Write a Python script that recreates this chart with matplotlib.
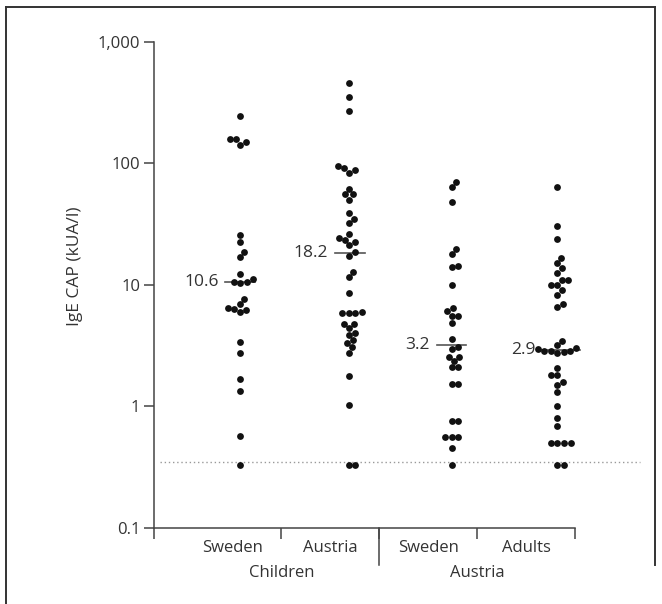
import numpy as np
import matplotlib
matplotlib.use('Agg')
import matplotlib.pyplot as plt
from matplotlib.lines import Line2D
from matplotlib.ticker import FixedLocator, FixedFormatter, NullLocator

plt.rcParams['font.family'] = ['Open Sans', 'DejaVu Sans']

# IgE CAP values (kUA/l)
sweden_children = [246, 160, 158, 151, 143, 25.9, 22.5, 18.8, 17.1, 12.4, 11.2,
                   10.6, 10.6, 10.3, 7.6, 6.9, 6.4, 6.3, 6.2, 5.95, 3.4, 2.74,
                   1.69, 1.34, 0.57, 0.33]
austria_children = [458, 353, 272, 96, 91.5, 89, 84, 62, 55.7, 55.7, 50.4, 39.4,
                    34.9, 32.1, 26.0, 24.4, 23.5, 22.4, 21.2, 18.5, 17.4, 12.8,
                    11.7, 8.6, 5.9, 5.9, 5.9, 5.95, 4.76, 4.76, 4.4, 3.99, 3.84,
                    3.49, 3.32, 3.07, 2.76, 1.78, 1.03, 0.33, 0.33]
sweden_austria = [70.6, 64.1, 48.5, 19.8, 18.0, 14.4, 13.9, 9.9, 6.45, 6.06, 5.54,
                  5.54, 4.85, 3.6, 3.09, 2.94, 2.56, 2.53, 2.35, 2.09, 2.09, 1.52,
                  1.52, 0.756, 0.756, 0.562, 0.562, 0.562, 0.45, 0.33]
adults = [63.4, 30.3, 24.0, 16.7, 15.1, 13.7, 12.6, 11.0, 11.0, 10.0, 10.0, 9.1,
          8.28, 6.97, 6.6, 3.46, 3.17, 3.0, 2.97, 2.86, 2.86, 2.86, 2.78, 2.76,
          2.07, 1.8, 1.8, 1.59, 1.51, 1.31, 1.0, 0.796, 0.683, 0.5, 0.5, 0.5, 0.5,
          0.33, 0.33]

medians = [10.6, 18.2, 3.2, 2.9]
median_labels = ['10.6', '18.2', '3.2', '2.9']
groups = ['Sweden', 'Austria', 'Sweden', 'Adults']
supergroups = ['Children', 'Austria']
y_ticks = [0.1, 1, 10, 100, 1000]
y_ticklabels = ['0.1', '1', '10', '100', '1,000']
cutoff = 0.35

# layout (x in category units)
edges = [0, 1.3, 2.3, 3.3, 4.3]
col_x = [0.88, 1.99, 3.04, 4.12]
line_x = [0.88, 2.0, 3.04, 4.16]
line_w = [0.30, 0.30, 0.30, 0.39]
label_x = [0.8, 1.8, 2.8, 3.8]
super_x = [1.3, 3.3]

W, H = 662, 604
ax_l, ax_r, ax_t, ax_b = 154, 575, 42, 527.7
PX_UNIT = (ax_r - ax_l) / 4.3
PX_DEC = (ax_b - ax_t) / 4.0
AX_H = ax_b - ax_t
INK = '#333333'


def swarm(vals, d=6.6):
    ys = np.log10(vals) * PX_DEC
    xs = np.zeros(len(vals))
    placed = []
    for i in np.argsort(ys):
        y = ys[i]
        cands = [0.0]
        for px, py in placed:
            dy = abs(y - py)
            if dy < d:
                dx = np.sqrt(d * d - dy * dy)
                cands += [px + dx, px - dx]
        cands.sort(key=abs)
        for c in cands:
            if all((c - px) ** 2 + (y - py) ** 2 >= d * d - 1e-6 for px, py in placed):
                break
        xs[i] = c
        placed.append((c, y))
    return xs / PX_UNIT


fig = plt.figure(figsize=(W / 100, H / 100), dpi=100)
ax = fig.add_axes([ax_l / W, (H - ax_b) / H, (ax_r - ax_l) / W, AX_H / H])
ax.set_yscale('log')
ax.set_ylim(0.1, 1000)
ax.set_xlim(0, 4.3)

for k, vals in enumerate([sweden_children, austria_children, sweden_austria, adults]):
    xs = col_x[k] + swarm(vals)
    ax.plot(xs, vals, 'o', ms=4.9, color='#111111', mec='none', clip_on=False, zorder=3)
    ax.plot([line_x[k] - line_w[k] / 2, line_x[k] + line_w[k] / 2], [medians[k]] * 2,
            color='#555555', lw=1.2, zorder=2, clip_on=False)
    ax.text(line_x[k] - line_w[k] / 2 - 0.07, medians[k], median_labels[k],
            ha='right', va='center', fontsize=12.5, color=INK)

ax.plot([0.06, 4.96], [cutoff, cutoff], ls=(0, (1, 2)), color='#999999', lw=1,
        clip_on=False, zorder=1)

for s in ['top', 'right']:
    ax.spines[s].set_visible(False)
for s in ['left', 'bottom']:
    ax.spines[s].set_color('#444444')
    ax.spines[s].set_linewidth(1.1)

ax.yaxis.set_major_locator(FixedLocator(y_ticks))
ax.yaxis.set_major_formatter(FixedFormatter(y_ticklabels))
ax.yaxis.set_minor_locator(NullLocator())
ax.tick_params(axis='y', length=7, width=1.1, color='#444444', labelsize=12,
               labelcolor=INK, pad=3)
ax.set_xticks(edges)
ax.tick_params(axis='x', length=8, width=1.1, color='#444444', labelbottom=False)

xt = ax.get_xaxis_transform()
ax.add_line(Line2D([2.3, 2.3], [0, -37.5 / AX_H], transform=xt, color='#444444',
                   lw=1.1, clip_on=False))
for x, t in zip(label_x, groups):
    ax.text(x, -20.5 / AX_H, t, transform=xt, ha='center', va='center',
            fontsize=12, color=INK)
for x, t in zip(super_x, supergroups):
    ax.text(x, -45.5 / AX_H, t, transform=xt, ha='center', va='center',
            fontsize=12, color=INK)

fig.text(75 / W, (H - 266) / H, 'IgE CAP (kUA/l)', rotation=90, ha='center',
         va='center', fontsize=12.5, color=INK)

# panel frame
fl = dict(transform=fig.transFigure, color='#333333', lw=1.4)
fig.add_artist(Line2D([6 / W, 6 / W], [0, (H - 7) / H], **fl))
fig.add_artist(Line2D([6 / W, 655 / W], [(H - 7) / H, (H - 7) / H], **fl))
fig.add_artist(Line2D([655 / W, 655 / W], [(H - 7) / H, (H - 565) / H], **fl))

fig.savefig('out.png', dpi=100)
